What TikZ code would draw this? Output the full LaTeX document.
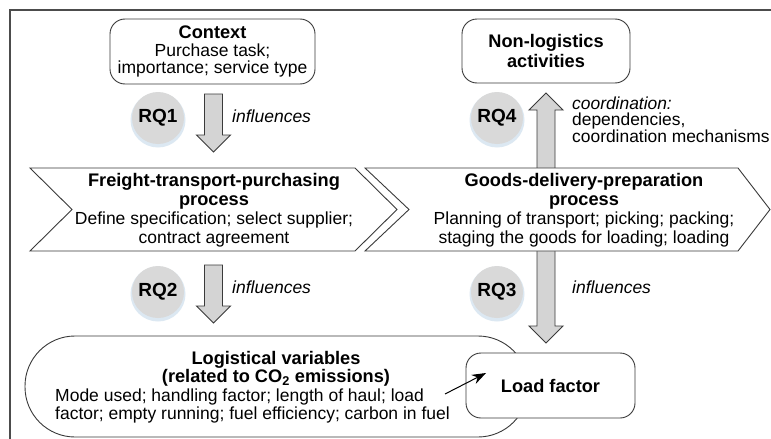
\documentclass[tikz,border=0pt]{standalone}
\usepackage{fontspec}
\setmainfont{Liberation Sans}
\usetikzlibrary{calc,arrows.meta}
\definecolor{edge}{HTML}{3A3A3A}
\definecolor{rqfill}{HTML}{D9D9D9}
\definecolor{arrfill}{HTML}{D4D4D4}
\definecolor{glow}{HTML}{DCE8F2}
\newcommand\blkdown[2]{%
  \draw[blockarrow] ($(#1)+(-9,0)$) -- ($(#2)+(-9,-17)$) -- ($(#2)+(-17,-17)$) -- (#2)
    -- ($(#2)+(17,-17)$) -- ($(#2)+(9,-17)$) -- ($(#1)+(9,0)$) -- cycle;}
\newcommand\blkup[2]{%
  \draw[blockarrow] ($(#1)+(-9,0)$) -- ($(#2)+(-9,17)$) -- ($(#2)+(-17,17)$) -- (#2)
    -- ($(#2)+(17,17)$) -- ($(#2)+(9,17)$) -- ($(#1)+(9,0)$) -- cycle;}
\newcommand\bt[1]{{\fontsize{18.2}{18.5}\selectfont\bfseries #1}}
\tikzset{
  txt/.style={font=\fontsize{17.5}{18.5}\selectfont, inner sep=0pt, align=center},
  roundbox/.style={draw=edge, line width=0.9pt, fill=white, rounded corners=15pt, inner sep=0pt},
  rqcircle/.style={circle, fill=rqfill, minimum size=52pt, inner sep=0pt,
     font=\fontsize{19}{20}\selectfont\bfseries},
  blockarrow/.style={draw=edge, line width=0.9pt, fill=arrfill, line join=miter},
  chev/.style={draw=edge, line width=0.9pt, fill=white, line join=miter},
  inftext/.style={font=\fontsize{17.5}{18.5}\selectfont\itshape, inner sep=0pt, anchor=west},
}
\begin{document}
\begin{tikzpicture}[x=1pt,y=-1pt]
\useasboundingbox[fill=white] (0,0) rectangle (771,439);
% frame
\draw[gray!60!black, line width=1.2pt] (10,439) -- (10,10) -- (771,10);

% RQ circles with glow
\foreach \cx/\cy in {158/118,158/292,497/118,497/292}{
  \fill[glow] (\cx,\cy+2) circle (27.5pt);
}
\node[rqcircle] (rq1) at (158,118) {RQ1};
\node[rqcircle] (rq2) at (158,292) {RQ2};
\node[rqcircle] (rq4) at (497,118) {RQ4};
\node[rqcircle] (rq3) at (497,292) {RQ3};

% block arrows
\coordinate (a1s) at (213.5,94);  \coordinate (a1e) at (213.5,152);
\coordinate (a2s) at (213.5,265); \coordinate (a2e) at (213.5,323);
\coordinate (amid) at (546,200);
\coordinate (a4e) at (546,93);
\coordinate (a3e) at (546,343);
\blkdown{a1s}{a1e}
\blkdown{a2s}{a2e}
\blkup{amid}{a4e}
\blkdown{amid}{a3e}

% chevrons
\draw[chev] (30,168) -- (355,168) -- (397,209.5) -- (355,251) -- (30,251) -- (72,209.5) -- cycle;
\draw[chev] (365,168) -- (738,168) -- (770,209.5) -- (738,251) -- (365,251) -- (409,209.5) -- cycle;
\node[txt, font=\fontsize{17.5}{19}\selectfont] (freight) at (214,210)
  {\bt{Freight-transport-purchasing}\\\bt{process}\\Define specification; select supplier;\\contract agreement};
\node[txt, font=\fontsize{17.5}{19}\selectfont] (goods) at (584,210)
  {\bt{Goods-delivery-preparation}\\\bt{process}\\Planning of transport; picking; packing;\\staging the goods for loading; loading};

% logistical variables
\node[draw=edge, line width=0.9pt, fill=white, rounded corners=50pt,
      minimum width=503pt, minimum height=101pt, inner sep=0pt] (logi) at (276.5,386.5) {};
\node[txt, font=\fontsize{18.2}{18.5}\selectfont\bfseries] (logit) at (276,369)
  {Logistical variables\\(related to CO\textsubscript{2} emissions)};
\node[txt, align=left, anchor=west] (logib) at (55,406)
  {Mode used; handling factor; length of haul; load\\factor; empty running; fuel efficiency; carbon in fuel};

% load factor
\node[roundbox, minimum width=169pt, minimum height=65pt, font=\fontsize{18.2}{18.5}\selectfont\bfseries]
  (loadf) at (550.5,385.5) {Load factor};
\coordinate (sa) at (445,394);
\draw[line width=1pt, -{Stealth[length=14pt,width=10pt]}] (sa) -- ($(sa)+(41,-21)$) coordinate (sb);

% top boxes
\node[roundbox, minimum width=205pt, minimum height=65pt, txt, font=\fontsize{17.5}{17.5}\selectfont]
  (context) at (212.5,51.5) {\bt{Context}\\Purchase task;\\importance; service type};
\node[roundbox, minimum width=168pt, minimum height=64pt, txt, font=\fontsize{18.2}{20}\selectfont\bfseries]
  (nonlog) at (546,51) {Non-logistics\\activities};

% labels
\node[inftext] (inf1) at (232,116) {influences};
\node[inftext] (inf2) at (232,287) {influences};
\node[inftext] (inf3) at (572,287) {influences};
\node[txt, align=left, anchor=west, font=\fontsize{17.4}{16}\selectfont] (coord) at (572,120)
  {\textit{coordination:}\\dependencies,\\coordination mechanisms};
\end{tikzpicture}
\end{document}
